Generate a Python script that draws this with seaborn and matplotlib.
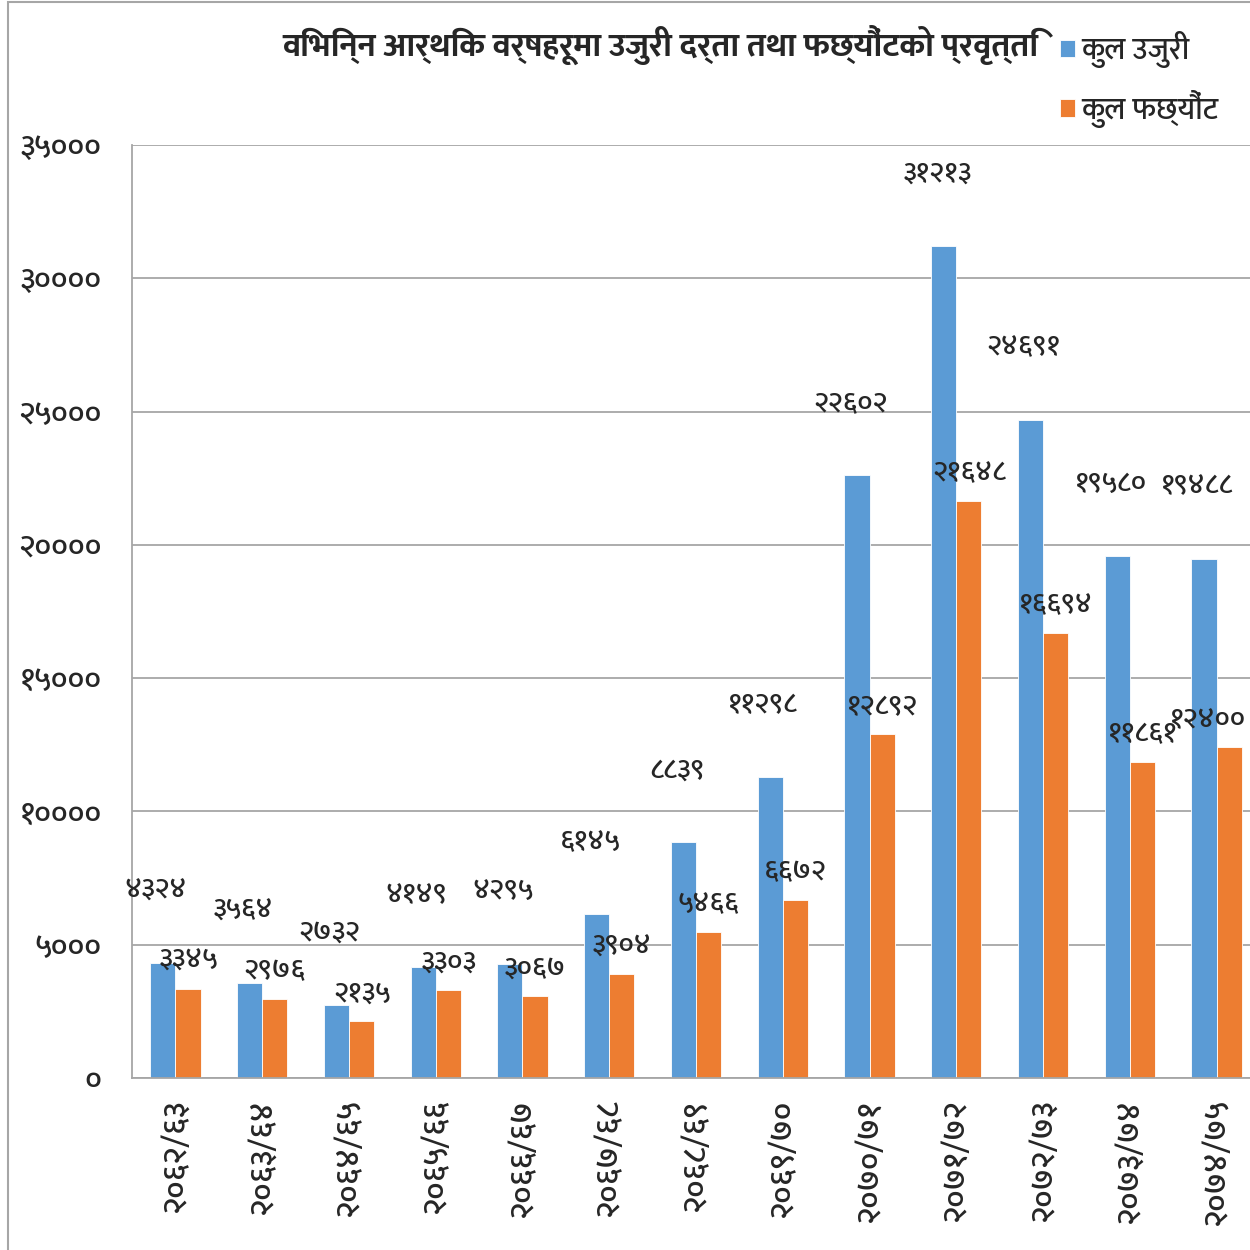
import numpy as np
import pandas as pd
import matplotlib
matplotlib.use('Agg')
import matplotlib.pyplot as plt
import seaborn as sns
from matplotlib import font_manager
from matplotlib.patches import Rectangle

# data
years = ['२०६२/६३', '२०६३/६४', '२०६४/६५', '२०६५/६६', '२०६६/६७', '२०६७/६८', '२०६८/६९',
         '२०६९/७०', '२०७०/७१', '२०७१/७२', '२०७२/७३', '२०७३/७४', '२०७४/७५']
total_complaints = [4324, 3564, 2732, 4149, 4295, 6145, 8839, 11298, 22602, 31213, 24691, 19580, 19488]
total_settled = [3345, 2976, 2135, 3303, 3067, 3904, 5466, 6672, 12892, 21648, 16694, 11861, 12400]
series_names = ['कुल उजुरी', 'कुल फछ्यौंट']
y_ticks = [0, 5000, 10000, 15000, 20000, 25000, 30000, 35000]
title = 'विभिन्न आर्थिक वर्षहरूमा उजुरी दर्ता तथा फछ्यौंटको प्रवृत्ति'

BLUE = '#5B9BD5'
ORANGE = '#ED7D31'
GRID = '#A6A6A6'

deva = str.maketrans('0123456789', '०१२३४५६७८९')


def to_deva(v):
    return str(v).translate(deva)


# pick an installed family with devanagari glyphs
installed = {f.name for f in font_manager.fontManager.ttflist}
deva_font = None
for name in ['Mukta', 'Hind', 'Noto Sans Devanagari', 'Poppins', 'FreeSans']:
    if name in installed:
        deva_font = name
        break

sns.set_style('white')
plt.rcParams['font.family'] = ([deva_font] if deva_font else []) + ['DejaVu Sans']

df = pd.DataFrame({
    'year': years * 2,
    'value': total_complaints + total_settled,
    'series': [series_names[0]] * len(years) + [series_names[1]] * len(years),
})

fig = plt.figure(figsize=(12.5, 12.5), dpi=100)
ax = fig.add_axes([0.1056, 0.1376, 0.9024, 0.7464])
sns.barplot(data=df, x='year', y='value', hue='series', palette=[BLUE, ORANGE],
            width=0.58, edgecolor='white', linewidth=0.6, saturation=1, ax=ax)

ax.set_ylim(0, 35000)
ax.set_xlim(-0.5, len(years) - 0.5)
ax.set_yticks(y_ticks)
ax.set_yticklabels([to_deva(t) for t in y_ticks], fontsize=23, fontweight='medium')
ax.yaxis.grid(True, color=GRID, lw=1.3)
ax.set_axisbelow(True)
ax.set_xlabel('')
ax.set_ylabel('')
for s in ['top', 'right']:
    ax.spines[s].set_visible(False)
for s in ['left', 'bottom']:
    ax.spines[s].set_color(GRID)
    ax.spines[s].set_linewidth(1.3)
ax.tick_params(axis='y', length=7.2, color=GRID, width=1.3, pad=15)
ax.set_xticks(range(len(years)))
ax.set_xticklabels(years, rotation=90, fontsize=24, fontweight='medium', va='top')
ax.set_xticks(np.arange(len(years) + 1) - 0.5, minor=True)
ax.tick_params(axis='x', which='major', length=0, pad=15)
ax.tick_params(axis='x', which='minor', length=8.6, color=GRID, width=1.3)

# value labels, nudged like the hand-placed ones in the original
labels = []
blue_bars, orange_bars = ax.containers[0], ax.containers[1]
for bar, v in zip(blue_bars, total_complaints):
    labels.append(ax.annotate(to_deva(v), (bar.get_x() + bar.get_width() / 2, v), xytext=(-5, 52),
                              textcoords='offset points', ha='center', va='center', fontsize=21,
                              fontweight='medium'))
for bar, v in zip(orange_bars, total_settled):
    labels.append(ax.annotate(to_deva(v), (bar.get_x() + bar.get_width() / 2, v), xytext=(0, 20),
                              textcoords='offset points', ha='center', va='center', fontsize=21,
                              fontweight='medium'))

fig.text(0.528, 0.964, title, ha='center', va='center', fontsize=24, fontweight='bold')
ax.legend(loc='upper left', bbox_to_anchor=(0.826, 0.997), bbox_transform=fig.transFigure,
          frameon=False, fontsize=22, handlelength=0.5, handleheight=0.5, handletextpad=0.2,
          labelspacing=0.7, prop={'weight': 'medium', 'size': 22})

fig.add_artist(Rectangle((0.0064, -0.1), 1.2, 1.0984, transform=fig.transFigure,
                         fill=False, edgecolor=GRID, lw=1.5))

# pull any label that runs past the right edge back inside
fig.canvas.draw()
renderer = fig.canvas.get_renderer()
fig_w = fig.bbox.width
for t in labels:
    bb = t.get_window_extent(renderer)
    if bb.x1 > fig_w - 2:
        dx, dy = t.get_position()
        t.set_position((dx - (bb.x1 - fig_w + 4) * 72 / fig.dpi, dy))

fig.savefig('out.png', dpi=100)
